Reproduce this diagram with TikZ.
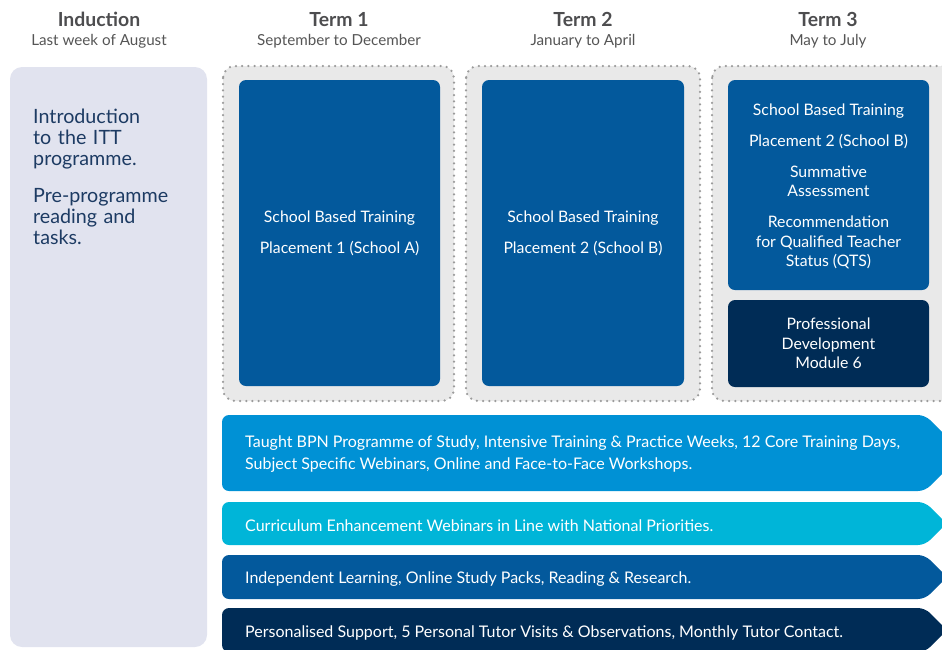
\documentclass[tikz,border=0pt]{standalone}
\usepackage{fontspec}
\setmainfont{Lato}
\usetikzlibrary{positioning}

\definecolor{indfill}{HTML}{E1E3EF}
\definecolor{indtext}{HTML}{1D3B63}
\definecolor{headgray}{HTML}{4D4D4F}
\definecolor{subgray}{HTML}{555555}
\definecolor{framegray}{HTML}{E9E9E9}
\definecolor{dotgray}{HTML}{9B9B9B}
\definecolor{midblue}{HTML}{03599C}
\definecolor{navy}{HTML}{002C56}
\definecolor{skyblue}{HTML}{0091D5}
\definecolor{cyanblue}{HTML}{00B5D8}

\begin{document}
\begin{tikzpicture}[
  x=1pt, y=-1pt,
  heading/.style={anchor=base, inner sep=0pt, text=headgray, font=\fontsize{19.4}{21}\selectfont\bfseries},
  subheading/.style={anchor=base, inner sep=0pt, text=subgray, font=\fontsize{15.2}{17}\selectfont},
  termframe/.style={fill=framegray, draw=dotgray, line width=2.5pt, line cap=round, dash pattern=on 0pt off 6.2pt, rounded corners=12pt},
  blockbox/.style={rectangle, rounded corners=7pt, inner sep=0pt, text=white, align=center, font=\fontsize{15.8}{19.5}\selectfont},
  bartext/.style={anchor=west, inner sep=0pt, text=white, align=left, font=\fontsize{16}{22}\selectfont}
]
\clip (0,0) rectangle (942,649);

% column headings
\node[heading] (indhead) at (99,26) {Induction};
\node[subheading] (indsub) at (99,45) {Last week of August};
\node[heading] (term1head) at (339,26) {Term 1};
\node[subheading] (term1sub) at (339,45) {September to December};
\node[heading] (term2head) at (583,26) {Term 2};
\node[subheading] (term2sub) at (583,45) {January to April};
\node[heading] (term3head) at (828,26) {Term 3};
\node[subheading] (term3sub) at (828,45) {May to July};

% induction column
\fill[indfill, rounded corners=12pt] (10,67) rectangle (207,647);
\node[anchor=north west, inner sep=0pt, text width=170pt, text=indtext,
      font=\fontsize{19.7}{21}\selectfont] (indtxt) at (33,109)
  {Introduction\\to the ITT\\programme.\\[16pt]Pre-programme\\reading and\\tasks.};

% term frames
\draw[termframe] (223,66) rectangle (454,401);
\draw[termframe] (466,66) rectangle (700,401);
\draw[termframe] (712,66) rectangle (962,401);

\node[blockbox, fill=midblue, minimum width=201pt, minimum height=306pt] (place1) at (339.5,233)
  {School Based Training\\[11.5pt]Placement 1 (School A)};
\node[blockbox, fill=midblue, minimum width=202pt, minimum height=306pt] (place2) at (583,233)
  {School Based Training\\[11.5pt]Placement 2 (School B)};
\node[blockbox, fill=midblue, minimum width=201pt, minimum height=210pt] (place3) at (828.5,185)
  {};
\node[inner sep=0pt, text=white, align=center, font=\fontsize{15.8}{19.5}\selectfont] (place3txt) at (828.5,186.5)
  {School Based Training\\[11.5pt]Placement 2 (School B)\\[11.5pt]Summative\\Assessment\\[11.5pt]Recommendation\\for Qualified Teacher\\Status (QTS)};
\node[blockbox, fill=navy, minimum width=201pt, minimum height=87pt] (module6) at (828.5,343.5)
  {Professional\\Development\\Module 6};

% programme strands
\foreach \name/\top/\bot/\shift/\col/\txt in {
    taught/415/491/1/skyblue/{Taught BPN Programme of Study, Intensive Training \& Practice Weeks, 12 Core Training Days,\\Subject Specific Webinars, Online and Face-to-Face Workshops.},
    webinars/502/545/2.5/cyanblue/{Curriculum Enhancement Webinars in Line with National Priorities.},
    independent/555/599/2.5/midblue/{Independent Learning, Online Study Packs, Reading \& Research.},
    support/608/652/2.5/navy/{Personalised Support, 5 Personal Tutor Visits \& Observations, Monthly Tutor Contact.}}
{
  \fill[\col, rounded corners=7pt] (222,\top) -- (925,\top) -- ({925+(\bot-\top)/2},{(\top+\bot)/2})
    -- (925,\bot) -- (222,\bot) -- cycle;
  \node[bartext] (\name) at (245,{(\top+\bot)/2+\shift}) {\txt};
}

\end{tikzpicture}
\end{document}
